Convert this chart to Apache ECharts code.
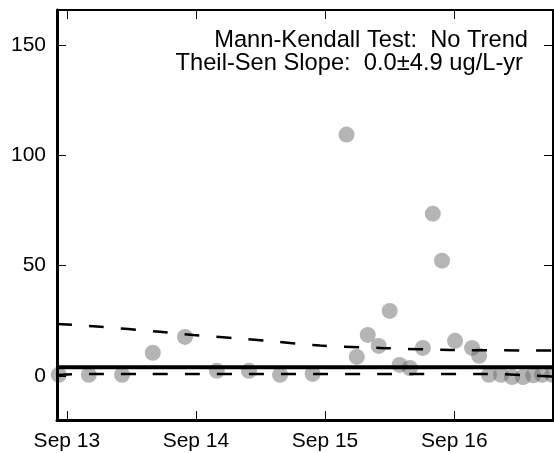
<!DOCTYPE html>
<html>
<head>
<meta charset="utf-8">
<script src="https://cdn.jsdelivr.net/npm/echarts@6/dist/echarts.min.js"></script>
<style>
  html, body { margin: 0; padding: 0; background: #fff; }
  #main { width: 554px; height: 453px; }
</style>
</head>
<body>
<div id="main"></div>
<script>
// sampled concentrations (ug/L)
var sampleDates = ['2013-08-09','2013-11-02','2014-02-04','2014-05-02','2014-08-01','2014-10-30',
  '2015-01-29','2015-04-27','2015-07-28','2015-11-01','2015-11-30','2015-12-31','2016-01-31',
  '2016-03-02','2016-03-30','2016-04-28','2016-06-04','2016-07-02','2016-07-28','2016-09-03',
  '2016-10-21','2016-11-10','2016-12-08','2017-01-11','2017-02-11','2017-03-14','2017-04-12',
  '2017-05-07','2017-06-05']
var concentrations = [0.5, 0.5, 0.5, 10.5, 17.7, 2.3,
  2.3, 0.5, 0.9, 109.5, 8.6, 18.6, 13.6,
  29.5, 5, 3.6, 12.7, 73.6, 52.3, 15.9,
  12.7, 9.1, 0.5, 0.5, -0.5, -0.5, 0.3,
  0.5, 0.5]

// Theil-Sen trend and confidence band
var trendDates = ['2013-08-04', '2017-06-07']
var trendValues = [3.9, 3.9]
var upperDates = ['2013-08-04','2013-11-25','2014-05-22','2014-08-24','2015-03-15','2015-08-18','2016-02-18','2016-08-20','2017-06-07']
var upperValues = [23.6, 22.4, 20, 18.6, 16, 13.8, 12.6, 11.8, 11.5]
var lowerDates = ['2013-08-04','2013-11-01','2016-12-01','2017-06-07']
var lowerValues = [0.4, 0.9, 0.9, -0.3]

var tickDates = ['2013-09-01', '2014-09-01', '2015-09-01', '2016-09-01']
var yTicks = [0, 50, 100, 150]

var xMin = '2013-08-04'
var xMax = '2017-06-07'
var yMin = -20
var yMax = 166

function ts(s){
  var p = s.split('-')
  return new Date(+p[0], +p[1] - 1, +p[2]).getTime()
}

function pairs(d, v){
  var out = []
  for(var i=0;i<d.length;i++){
    out.push([ts(d[i]), v[i]])
  }
  return out
}

var xTicks = tickDates.map(ts)
var font = "'Liberation Sans', Arial, sans-serif"

var chart = echarts.init(document.getElementById("main"))

var option = {
  animation: false,
  grid: { left: 57, right: 1, top: 10, bottom: 33 },
  xAxis: [
    {
      type: 'value', min: ts(xMin), max: ts(xMax), z: 5,
      axisLine: { onZero: false, lineStyle: { color: '#000', width: 3 } },
      axisTick: { inside: true, length: 9, customValues: xTicks, lineStyle: { color: '#000', width: 1 } },
      axisLabel: {
        customValues: xTicks, margin: 11, color: '#000', fontSize: 21, fontFamily: font,
        formatter: function(v){ return 'Sep ' + String(new Date(v).getFullYear()).slice(2) }
      },
      splitLine: { show: false }
    },
    {
      type: 'value', min: ts(xMin), max: ts(xMax), position: 'top', z: 5,
      axisLine: { onZero: false, lineStyle: { color: '#000', width: 2 } },
      axisTick: { inside: true, length: 9, customValues: xTicks, lineStyle: { color: '#000', width: 1 } },
      axisLabel: { show: false },
      splitLine: { show: false }
    }
  ],
  yAxis: [
    {
      type: 'value', min: yMin, max: yMax, z: 5,
      axisLine: { show: true, onZero: false, lineStyle: { color: '#000', width: 3 } },
      axisTick: { show: true, inside: true, length: 9, customValues: yTicks, lineStyle: { color: '#000', width: 1 } },
      axisLabel: { customValues: yTicks, margin: 11, color: '#000', fontSize: 21, fontFamily: font },
      splitLine: { show: false }
    },
    {
      type: 'value', min: yMin, max: yMax, position: 'right', z: 5,
      axisLine: { show: true, onZero: false, lineStyle: { color: '#000', width: 2 } },
      axisTick: { show: true, inside: true, length: 9, customValues: yTicks, lineStyle: { color: '#000', width: 1 } },
      axisLabel: { show: false },
      splitLine: { show: false }
    }
  ],
  graphic: [
    {
      type: 'text', right: 26, top: 28, z: 10,
      style: { text: 'Mann-Kendall Test:  No Trend', fill: '#000', font: '23.7px ' + font }
    },
    {
      type: 'text', right: 31, top: 51, z: 10,
      style: { text: 'Theil-Sen Slope:  0.0\u00b14.9 ug/L-yr', fill: '#000', font: '23.7px ' + font }
    }
  ],
  series: [
    {
      name: 'data', type: 'scatter', z: 2,
      symbolSize: 16,
      itemStyle: { color: 'rgba(100,100,100,0.6)' },
      data: pairs(sampleDates, concentrations)
    },
    {
      name: 'upper', type: 'line', z: 3, smooth: 0.3, symbol: 'none',
      lineStyle: { color: '#000', width: 2.5, type: [15, 17] },
      data: pairs(upperDates, upperValues)
    },
    {
      name: 'lower', type: 'line', z: 3, smooth: 0.3, symbol: 'none',
      lineStyle: { color: '#000', width: 2.5, type: [15, 17] },
      data: pairs(lowerDates, lowerValues)
    },
    {
      name: 'trend', type: 'line', z: 3, symbol: 'none',
      lineStyle: { color: '#000', width: 4 },
      data: pairs(trendDates, trendValues)
    }
  ]
}

chart.setOption(option)
</script>
</body>
</html>
